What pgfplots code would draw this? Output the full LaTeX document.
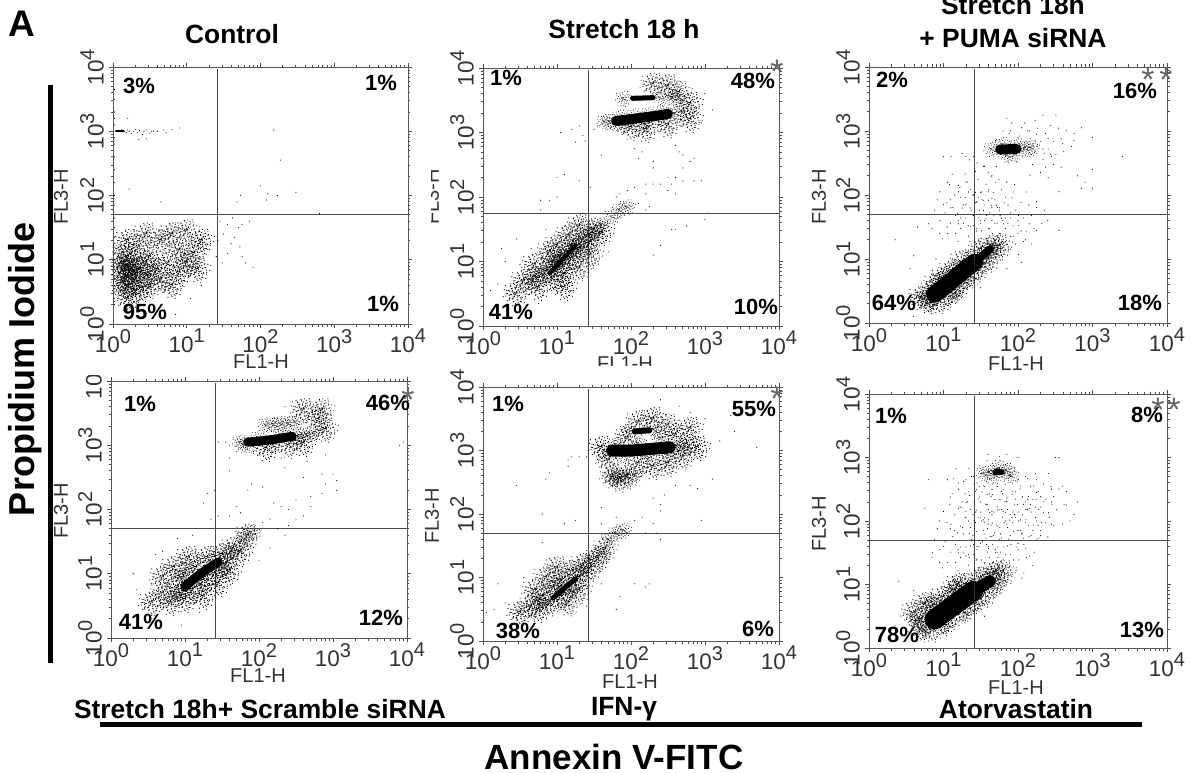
\documentclass[border=0pt]{standalone}
\usepackage{fontspec}
\setmainfont{Liberation Sans}
\usepackage{pgfplots}
\pgfplotsset{compat=1.18}
\newdimen\cs
\newcommand\dc[2]{\pgfpathmoveto{\pgfqpoint{#1\cs}{#2\cs}}\pgfpathlineto{\pgfqpoint{#1\cs}{#2\cs}}}
\newcommand\db[2]{\dc{#2}{-#1}}
\let\dd\dc
\newcommand\cloud{\dd{0}{1}\dd{3}{-2}\dd{-2}{-3}\dd{-4}{2}\dd{2}{4}\dd{5}{1}\dd{-6}{-1}\dd{1}{-6}\dd{-1}{6}\dd{6}{-4}\dd{-5}{5}\dd{4}{7}\dd{-7}{-5}\dd{8}{2}\dd{-8}{3}\dd{2}{-9}\dd{-3}{-8}\dd{7}{6}\dd{-2}{9}\dd{9}{-3}\dd{-10}{0}\dd{5}{-8}\dd{-6}{8}\dd{10}{5}\dd{-9}{-7}\dd{1}{11}\dd{0}{-11}\dd{-12}{4}\dd{12}{-1}\dd{8}{-9}\dd{-4}{-12}\dd{6}{11}\dd{-11}{8}\dd{13}{4}\dd{-13}{-3}\dd{3}{-13}\dd{1}{-2}\dd{-2}{1}\dd{-1}{-1}\dd{3}{2}\dd{-3}{0}\dd{4}{-4}\dd{-4}{-5}}
\pgfdeclareplotmark{clump}{\pgfsetlinewidth{1.15pt}\pgfsetroundcap\cs=1pt\let\dd\dc\cloud\cs=0.8pt\let\dd\db\cloud\pgfusepathqstroke}
\pgfdeclareplotmark{tight}{\pgfsetlinewidth{0.95pt}\pgfsetroundcap\cs=0.62pt\let\dd\dc\cloud\pgfusepathqstroke}
\pgfdeclareplotmark{wide}{\pgfsetlinewidth{1.1pt}\pgfsetroundcap\cs=2.6pt\let\dd\dc\cloud\pgfusepathqstroke}
\pgfdeclareplotmark{pt}{\pgfsetlinewidth{1.15pt}\pgfsetroundcap\cs=1pt\dc{0}{0}\pgfusepathqstroke}
\newcommand\dec[1]{10\raisebox{0.42em}{\fontsize{20}{20}\selectfont #1}}
\pgfplotsset{
 flow/.style={scale only axis,clip=true,xmin=0,xmax=4,ymin=0,ymax=4,
  axis line style={draw=black!65,line width=0.9pt},
  tick style={draw=black!70,line width=0.7pt},tick align=outside,
  major tick length=4pt,minor tick length=2.5pt,
  xtick={0,1,2,3,4},ytick={0,1,2,3,4},
  xticklabels={\dec0,\dec1,\dec2,\dec3,\dec4},
  yticklabels={\dec0,\dec1,\dec2,\dec3,\dec4},
  minor xtick={.301,.477,.602,.699,.778,.845,.903,.954,1.301,1.477,1.602,1.699,1.778,1.845,1.903,1.954,2.301,2.477,2.602,2.699,2.778,2.845,2.903,2.954,3.301,3.477,3.602,3.699,3.778,3.845,3.903,3.954},
  minor ytick={.301,.477,.602,.699,.778,.845,.903,.954,1.301,1.477,1.602,1.699,1.778,1.845,1.903,1.954,2.301,2.477,2.602,2.699,2.778,2.845,2.903,2.954,3.301,3.477,3.602,3.699,3.778,3.845,3.903,3.954},
  ticklabel style={font=\fontsize{22.5}{23}\selectfont,text=black!80},
  xticklabel style={anchor=north,inner sep=1pt},
  yticklabel style={rotate=90,anchor=south,inner sep=5pt},
 },
 cl/.style={only marks,mark=clump,mark options={draw=black,solid}},
 ti/.style={only marks,mark=tight,mark options={draw=black,solid}},
 wd/.style={only marks,mark=wide,mark options={draw=black,solid}},
 dt/.style={only marks,mark=pt,mark options={draw=black,solid}},
 sp/.style={black,no marks,line cap=round,line join=round,line width=#1pt},
 qd/.style={draw=black!70,line width=0.9pt,no marks},
}
\newcommand\pct[3]{\node[font=\bfseries\fontsize{22}{22}\selectfont,inner sep=0pt] at (#1pt,-#2pt) {#3};}
\newcommand\ttl[3]{\node[font=\bfseries\fontsize{26.4}{26}\selectfont,inner sep=0pt] at (#1pt,-#2pt) {#3};}
\newcommand\stp[2]{\node[font=\fontsize{34}{34}\selectfont,text=black!60,inner sep=0pt] at (#1pt,-#2pt-7pt) {*};}
\newcommand\flx[2]{\node[font=\fontsize{20}{20}\selectfont,text=black!80,inner sep=0pt] at (#1pt,-#2pt) {FL1-H};}
\newcommand\fly[2]{\node[font=\fontsize{20}{20}\selectfont,text=black!80,inner sep=0pt,rotate=90] at (#1pt,-#2pt) {FL3-H};}
\begin{document}
\begin{tikzpicture}[x=1pt,y=1pt]
\useasboundingbox (0,0) rectangle (1192pt,-773pt);
\clip (0,0) rectangle (1192pt,-773pt);
% Control
\begin{axis}[flow,at={(113pt,-324pt)},anchor=south west,width=295pt,height=257pt]
\addplot[cl] coordinates {(.2,.9)(.2,.75)(.2,1.05)(.2,.6)(.25,.85)(.25,.95)(.3,.7)(.3,.5)(.35,1.2)(.35,.85)(.45,.95)(.45,.75)(.5,.6)(.5,1.05)(.6,.85)(.65,.7)(.65,1.3)(.75,.95)(.8,.6)(.9,.8)(.9,1.15)(1,.95)(1.1,1.1)(1.15,.85)(1.2,1.3)(.2,1.3)(.45,1.4)(.8,1.4)(1,1.45)(.2,.4)(.15,.7)(.15,.95)(.4,.55)};
\addplot[ti] coordinates {(.1,.8)(.15,.65)(.1,.95)(.1,.55)(.1,1.15)(.3,.8)(.5,.8)};
\addplot[dt] coordinates {(.02,.3)(.02,.4)(.02,.5)(.02,.6)(.02,.7)(.02,.8)(.02,.9)(.02,1)(.02,1.1)(.02,1.2)(.02,1.35)(.02,1.5)(.02,1.65)(.02,1.85)(.02,2)(.02,2.2)(.02,2.4)(.02,2.6)(.02,2.8)(.02,2.9)(.02,3.1)(.02,3.2)(.02,3.3)(.02,3.5)(.02,3.65)(.05,3.01)(.08,3.01)(.1,3)(.12,3.02)(.14,3.01)(.16,3)(.18,2.98)(.2,3.02)(.22,3)(.25,2.97)(.28,3)(.3,3.03)(.33,2.98)(.36,3.01)(.4,2.95)(.42,3)(.46,3.02)(.5,2.97)(.52,3)(.45,2.88)(.35,2.87)(.55,3)(.6,3)(.68,3.02)(.72,2.98)(.8,3.03)(.9,3.05)(.2,3.2)(.22,2.1)(.65,1.9)(2.18,3.02)(2.27,2.55)(2,2.15)(1.73,2.0)(1.68,1.9)(2.1,2.03)(2.08,1.93)(2.23,2)(2.48,2.05)(2.8,1.72)(1.45,1.6)(1.5,1.4)(1.55,1.1)(1.6,1.25)(1.65,1.35)(1.7,1.5)(1.72,1.2)(1.75,1.05)(1.8,.95)(1.75,1.55)(1.85,1.6)(1.9,.88)(1.55,1.55)(1.62,1.65)(1.48,.95)(1.42,1.3)(1.4,1.05)(.5,.2)(.7,.22)(1.05,.4)(1.2,.6)(.85,.15)};
\addplot[sp=2] coordinates {(.04,3.01)(.14,3.01)};
\addplot[qd] coordinates {(1.41,0)(1.41,3.97)};
\addplot[qd] coordinates {(0,1.7)(4,1.7)};
\end{axis}
% Stretch 18 h
\begin{axis}[flow,at={(483pt,-326pt)},anchor=south west,width=296pt,height=258pt]
\addplot[sp=10] coordinates {(1.8,3.18)(1.95,3.2)(2.15,3.23)(2.35,3.26)(2.5,3.29)};
\addplot[sp=5] coordinates {(2.02,3.53)(2.3,3.54)};
\addplot[sp=4] coordinates {(.9,.82)(1.05,1)(1.25,1.25)};
\addplot[ti] coordinates {(1.65,3.17)(1.72,3.17)(2.6,3.3)(2.7,3.32)(1.9,3.53)(2.4,3.54)(2.55,3.55)(2.65,3.55)(1.9,3.12)(2.2,3.13)(1.8,3.14)(2,3.17)(2.2,3.19)(2.4,3.23)(1.85,3.24)(2.05,3.26)(2.25,3.29)(2.45,3.32)(.8,.8)(.9,.9)(1,1)(1.05,1.05)(1.15,1.1)(1.25,1.2)(1.3,1.25)(1.4,1.4)(1.5,1.45)(1.6,1.55)(1.75,1.7)(1.85,1.8)(1.95,1.85)(.65,.72)};
\addplot[cl] coordinates {(2.3,3.75)(2.5,3.72)(2.65,3.62)(2.8,3.45)(2.5,3.12)(2.8,3.2)(2.2,3.05)(2,3.08)(.55,.7)(.7,.75)(.75,.6)(.85,.85)(.95,.75)(.95,1)(1.05,.95)(1.1,.8)(1.1,1.1)(1.2,1.05)(1.2,1.25)(1.3,1.2)(1.35,1.35)(1.45,1.3)(1.5,1.5)(1.6,1.45)(.7,.95)(.9,1.15)(1.1,.6)(1.3,.9)(1.45,1.1)(1,1.25)(1.15,1.4)(.45,.5)(1.3,1.55)};
\addplot[dt] coordinates {(1.3,3.1)(1.2,3.05)(1.05,3)(1.35,2.95)(1.25,2.85)(1.5,3.05)(1.55,3.1)(1.38,2.87)(1.6,2.65)(1.1,2.35)(1,2.3)(1.3,2.25)(.9,1.95)(1,2)(.78,1.95)(.78,1.8)(1.45,2.15)(2.05,2.75)(2.15,2.7)(2.1,2.6)(2.3,2.55)(2.3,2.45)(2.6,2.8)(2.65,2.7)(2.7,2.65)(2.8,2.55)(2.85,2.6)(2.7,2.45)(2.7,2.25)(2.6,2.3)(2.55,2.2)(2.5,2.3)(2.4,2.2)(2.3,2.2)(2.2,2.2)(2.05,2.15)(2.2,2.05)(1.95,2.1)(1.85,2.05)(1.8,2)(2,1.85)(2.1,1.9)(2.2,1.8)(2.25,1.85)(2.6,2.05)(2.5,2.1)(2.85,2.25)(2.95,2.25)(3,1.65)(2.55,1.5)(2.6,1.5)(2.75,1.55)(2.4,1.25)(2.3,1.1)(.2,.65)(.35,.55)(.1,.55)(.3,1)(.45,1.35)(.65,1.2)(.5,.95)(.25,1.2)(.75,.35)(1.2,.55)(1.55,1)(1.7,1.15)(.85,1.5)(1.1,1.55)(1.35,1.75)(3.05,1.75)(3.1,3.35)(3.0,3.6)(2.95,3.15)};
\addplot[qd] coordinates {(1.42,0)(1.42,3.97)};
\addplot[qd] coordinates {(0,1.74)(4,1.74)};
\end{axis}
% PUMA
\begin{axis}[flow,at={(869pt,-323pt)},anchor=south west,width=298pt,height=256pt]
\addplot[sp=17] coordinates {(.88,.45)(1.05,.6)(1.25,.8)(1.42,.95)};
\addplot[sp=8] coordinates {(1.42,.95)(1.62,1.15)};
\addplot[sp=10] coordinates {(1.76,2.71)(1.98,2.72)};
\addplot[ti] coordinates {(1.65,2.72)(1.85,2.63)(2,2.77)(2.1,2.73)(2.18,2.74)(1.8,2.79)(1.95,2.65)(.72,.4)(.8,.3)(.95,.7)(1.15,.85)(1.3,.65)(1.15,.45)(1.5,.9)(1.35,1.05)(1.7,1.2)(1.6,1.05)};
\addplot[cl] coordinates {(.7,.4)(.8,.35)(.9,.6)(.95,.35)(1.05,.45)(1.1,.8)(1.2,.6)(1.25,.95)(1.35,.75)(1.45,.85)(1.5,1.15)(1.6,1)(1.65,1.2)(1.75,1.2)(.85,.5)(1,.7)(1.15,.55)(1.3,.85)};
\addplot[wd] coordinates {(1.5,2)(1.3,1.6)(1.9,1.6)(2.3,2.8)};
\addplot[dt] coordinates {(1,2.6)(1.1,2.6)(1.25,2.65)(1.3,2.6)(1.35,2.55)(1.4,2.6)(1.45,2.5)(1.55,2.45)(1.6,2.35)(1.65,2.3)(1.7,2.2)(1.6,2.05)(1.65,1.95)(1.7,2.85)(1.8,3)(1.85,3.2)(1.9,3)(2,2.9)(2.05,3.05)(2.15,3)(2.25,2.95)(2.35,2.65)(2.45,2.6)(2.6,2.8)(2.75,2.85)(2.85,3.05)(3.0,2.9)(3.4,2.6)(3,2.4)(2.8,2.3)(2.9,2.2)(2.85,2.1)(3,2.1)(2.55,2.05)(2.25,1.9)(1.05,2.2)(1.2,2.15)(1.3,2.2)(1.2,2.05)(1.4,2.0)(.95,2.05)(1,1.85)(1.1,1.8)(1.3,1.85)(1.45,1.9)(1.75,1.8)(1.9,1.72)(.65,1.5)(.8,1.55)(.95,1.4)(1.05,1.5)(1.2,1.55)(1.5,1.6)(1.65,1.6)(1.8,1.55)(2,1.6)(2.15,1.55)(2.25,1.45)(2.0,1.4)(1.9,1.35)(1.75,1.4)(2.1,1.3)(2.05,.95)(.35,1.3)(.6,1.05)(.9,1)(.55,.85)(.3,.35)(.6,.1)(1.5,.55)(1.85,.85)(2.4,1.6)(2.55,1.45)};
\addplot[qd] coordinates {(1.42,0)(1.42,3.97)};
\addplot[qd] coordinates {(0,1.7)(4,1.7)};
\end{axis}
% Scramble
\begin{axis}[flow,at={(111pt,-638pt)},anchor=south west,width=296pt,height=257pt]
\addplot[sp=9] coordinates {(1,.8)(1.15,.95)(1.3,1.07)(1.45,1.18)};
\addplot[sp=9] coordinates {(1.85,3.05)(2.05,3.07)(2.25,3.1)(2.45,3.14)};
\addplot[ti] coordinates {(1.75,3.05)(2.55,3.16)(2.65,3.17)(2.75,3.18)(2.1,3.32)(2.2,3.33)(2.3,3.34)(2.4,3.34)(2.5,3.36)(1.9,3)(2.2,3)(1.8,3.01)(2,3.12)(2.3,3.17)(2.5,3.1)(.9,.7)(.85,.65)(1.55,1.25)(1.65,1.35)(1.8,1.55)(1.9,1.65)(1,.75)(.95,.95)(1.2,.85)(1.35,1.2)(1.5,1.05)};
\addplot[cl] coordinates {(.7,.7)(.8,.55)(.9,.8)(1,.6)(1,1)(1.1,.75)(1.15,1.1)(1.25,.9)(1.3,1.25)(1.4,1)(1.5,1.3)(1.55,1.15)(1.65,1.4)(1.75,1.35)(1.85,1.6)(2.6,3.55)(2.8,3.4)(2.9,3.25)(2.4,3)(2.6,3.03)(2.1,2.95)(2.85,3.55)(.7,.95)(.85,1.1)(1.05,1.25)(1.25,.65)(1.45,.85)(1.6,1.05)(.55,.55)};
\addplot[dt] coordinates {(1.45,3.05)(1.55,3.05)(1.6,3)(1.7,2.9)(1.6,2.8)(1.6,2.6)(2,2.85)(2.3,2.8)(2.35,2.65)(2.65,2.75)(2.9,2.85)(2.6,2.5)(2.85,2.55)(3,2.55)(3.05,2.45)(2.9,2.4)(3.05,2.3)(2.85,2.25)(2.7,2.2)(2.7,2.05)(2.5,2.15)(2.3,2.05)(2.4,2)(2.2,2.1)(2.05,2.35)(1.7,2.05)(1.75,1.95)(1.6,1.9)(1.85,2.3)(1.9,2.4)(1.4,2.3)(1.3,2.25)(1.25,2.1)(1.45,1.9)(2.05,1.8)(2.15,1.85)(2.25,1.7)(2.4,1.75)(2.5,1.85)(2.6,1.9)(2.35,1.6)(2.0,1.2)(2.15,1.4)(1.35,1.85)(1.1,1.6)(.9,1.55)(.7,1.35)(.6,1.3)(.55,.85)(.35,.75)(.3,1.0)(.45,.55)(.55,.35)(.95,.2)(1.2,.4)(1.6,.9)(3.95,3.05)(3.9,3)(2.35,3.6)(2.5,3.7)};
\addplot[qd] coordinates {(1.41,0)(1.41,3.97)};
\addplot[qd] coordinates {(0,1.7)(4,1.7)};
\end{axis}
% IFN
\begin{axis}[flow,at={(483pt,-641pt)},anchor=south west,width=296pt,height=254pt]
\addplot[sp=12] coordinates {(1.75,3)(2.02,3)(2.22,3.02)(2.52,3.05)};
\addplot[sp=6] coordinates {(2.05,3.3)(2.25,3.32)};
\addplot[sp=5] coordinates {(.95,.68)(1.25,.98)};
\addplot[ti] coordinates {(1.75,2.58)(1.85,2.58)(1.95,2.6)(2.05,2.62)(1.65,3)(2.6,3.04)(2.7,3.05)(2.35,3.3)(1.95,3.3)(1.8,3.1)(2.1,3.12)(2.4,3.2)(1.45,1.3)(1.6,1.4)(1.7,1.6)(1.8,1.7)(1.9,1.75)(.8,.6)(1.9,2.92)(2.2,2.93)(2.5,2.95)(1.05,.85)(1.2,.8)(1.35,1.1)};
\addplot[cl] coordinates {(2.5,3.4)(2.6,3.25)(2.75,3.1)(2.8,3.35)(2.3,3.5)(2.1,2.8)(2.3,2.75)(2.5,2.8)(1.95,2.6)(1.85,2.55)(1.75,2.6)(1.7,2.85)(1.6,3.05)(1.95,3.2)(2.7,2.9)(2.9,3.05)(2.1,3.45)(.65,.55)(.75,.5)(.8,.7)(.9,.6)(.95,.85)(1.05,.7)(1.05,.95)(1.15,.85)(1.2,1.1)(1.3,1)(1.35,1.2)(1.45,1.15)(1.55,1.3)(1.65,1.45)(.7,.8)(.85,1)(1,1.15)(1.15,.6)(1.3,.8)(.5,.45)};
\addplot[dt] coordinates {(1.4,2.9)(1.3,2.9)(1.2,2.9)(1.15,2.85)(1.15,2.75)(.9,2.65)(.85,2.55)(.45,2.45)(.8,2)(1.1,1.85)(1.25,1.9)(1.6,1.85)(1.6,2.1)(1.8,1.95)(1.85,1.8)(2.05,1.9)(2.15,1.95)(2.3,1.85)(2.4,2.05)(2.3,2.25)(2.4,2.15)(2.45,2.3)(2.6,2.45)(2.8,2.45)(2.9,2.4)(3.1,2.55)(2.95,1.9)(3.2,3.15)(3.35,3.55)(3.0,3.5)(3.4,3.3)(3.7,3.05)(2.8,3.6)(2.65,3.7)(2.4,3.8)(2.2,1.7)(2.35,1.7)(2.4,1.6)(1.1,1.2)(.9,1.3)(.8,1.55)(.55,1)(.2,.9)(.3,.6)(.45,.35)(.6,.25)(.15,.5)(.05,.45)(1.6,.9)(2.05,.9)(2.2,.85)(2.25,.9)(1.85,.7)(1.8,.5)(1.4,.55)};
\addplot[qd] coordinates {(1.42,0)(1.42,3.97)};
\addplot[qd] coordinates {(0,1.7)(4,1.7)};
\end{axis}
% Atorvastatin
\begin{axis}[flow,at={(869pt,-648pt)},anchor=south west,width=298pt,height=254pt]
\addplot[sp=20] coordinates {(.88,.45)(1.05,.6)(1.25,.77)(1.4,.9)};
\addplot[sp=12] coordinates {(1.4,.9)(1.62,1.05)};
\addplot[sp=6] coordinates {(1.7,2.77)(1.78,2.77)};
\addplot[ti] coordinates {(1.62,2.77)(1.7,2.72)(1.85,2.8)(1.9,2.72)(1.75,2.83)(1.55,2.75)(.65,.45)(.75,.28)(1,.35)(.85,.72)(1.15,.92)(1.3,.55)(1.45,.7)(1.7,1.2)(1.55,1.15)(1.75,1)};
\addplot[cl] coordinates {(.7,.45)(.7,.3)(.85,.3)(.85,.65)(1,.4)(1,.8)(1.1,.5)(1.15,.9)(1.25,.6)(1.3,1)(1.4,.75)(1.5,1.1)(1.55,.85)(1.65,1)(1.7,1.2)(1.8,1.2)(.6,.55)(.75,.7)(1.2,1)};
\addplot[wd] coordinates {(1.5,2.1)(2,2.1)(1.3,1.55)(1.8,1.55)(2.2,2.3)(1.55,2.5)};
\addplot[dt] coordinates {(.8,2.65)(1.05,2.65)(1.2,2.6)(1.3,2.65)(1.4,2.7)(1.5,2.75)(1.45,2.6)(1.6,2.6)(1.65,2.5)(1.8,2.5)(1.85,2.35)(2,2.65)(2.1,2.7)(2.25,2.65)(2.25,2.45)(2.45,2.3)(2.6,2.55)(2.45,2.5)(2.55,3)(2.5,3)(2,3)(1.85,3.05)(1.75,3.02)(1.7,2.95)(1.6,3.05)(2.65,2.25)(2.8,2.3)(2.75,2.1)(2.45,1.95)(2.6,1.95)(2.7,2)(.75,2.2)(.95,2)(1,2.15)(1.1,1.95)(1.2,2.2)(1.3,2.15)(1.25,2.3)(1.35,2.4)(1.3,2.05)(1.15,1.85)(1.35,1.8)(1.5,2.3)(1.5,2.05)(1.6,1.95)(1.65,2.15)(1.8,2.15)(1.85,1.95)(1.95,2.1)(2,1.85)(2.15,2.2)(2.25,2)(2.3,1.85)(2.4,1.75)(1.2,1.5)(1.0,1.6)(.85,1.5)(.95,1.35)(1.3,1.45)(1.45,1.6)(1.45,1.4)(1.6,1.6)(1.7,1.5)(1.8,1.4)(2,1.55)(2.15,1.45)(2.2,1.3)(1.9,1.15)(2.05,1.1)(.4,1.05)(.5,.7)(.35,.35)(.2,.25)(.6,.9)(1.55,.5)};
\addplot[qd] coordinates {(1.42,0)(1.42,3.97)};
\addplot[qd] coordinates {(0,1.69)(4,1.69)};
\end{axis}
% cut-off labels
\fly{61}{197}\flx{261}{362}
\fly{432}{197}\flx{625}{364}
\fly{819}{197}\flx{1016}{364}
\fly{61}{511}\flx{258}{676}
\fly{432}{516}\flx{630}{682}
\fly{819}{524}\flx{1016}{688}
\fill[white] (420pt,-160pt) rectangle (431pt,-240pt);
\fill[white] (585pt,-366pt) rectangle (670pt,-376pt);
\fill[white] (70pt,-358pt) rectangle (108pt,-375pt);
% percentages
\pct{139}{86}{3\%}\pct{381}{83}{1\%}\pct{145}{312}{95\%}\pct{383}{304}{1\%}
\pct{506}{78}{1\%}\pct{753}{81}{48\%}\pct{511}{312}{41\%}\pct{756}{307}{10\%}
\pct{892}{80}{2\%}\pct{1135}{91}{16\%}\pct{894}{303}{64\%}\pct{1140}{303}{18\%}
\pct{140}{404}{1\%}\pct{388}{403}{46\%}\pct{141}{622}{41\%}\pct{381}{618}{12\%}
\pct{508}{404}{1\%}\pct{754}{409}{55\%}\pct{518}{631}{38\%}\pct{758}{629}{6\%}
\pct{891}{416}{1\%}\pct{1147}{415}{8\%}\pct{897}{635}{78\%}\pct{1142}{630}{13\%}
\stp{777}{65}\stp{1148}{73}\stp{1166}{73}\stp{408}{393}\stp{777}{392}\stp{1158}{403}\stp{1174}{403}
% titles
\node[font=\bfseries\fontsize{37}{37}\selectfont,inner sep=0pt] at (22pt,-24pt) {A};
\ttl{232}{34}{Control}\ttl{624}{29}{Stretch 18 h}\ttl{1013}{5}{Stretch 18h}\ttl{1013}{38}{+ PUMA siRNA}
\ttl{260}{709}{Stretch 18h+ Scramble siRNA}\ttl{624}{709}{IFN-γ}\ttl{1016}{709}{Atorvastatin}
\node[font=\bfseries\fontsize{36}{36}\selectfont,inner sep=0pt,rotate=90] at (25pt,-369pt) {Propidium Iodide};
\node[font=\bfseries\fontsize{35}{35}\selectfont,inner sep=0pt] at (614pt,-757pt) {Annexin V-FITC};
\fill[black] (48pt,-85pt) rectangle (52.5pt,-663pt);
\fill[black] (100pt,-722pt) rectangle (1142pt,-727pt);
\end{tikzpicture}
\end{document}
